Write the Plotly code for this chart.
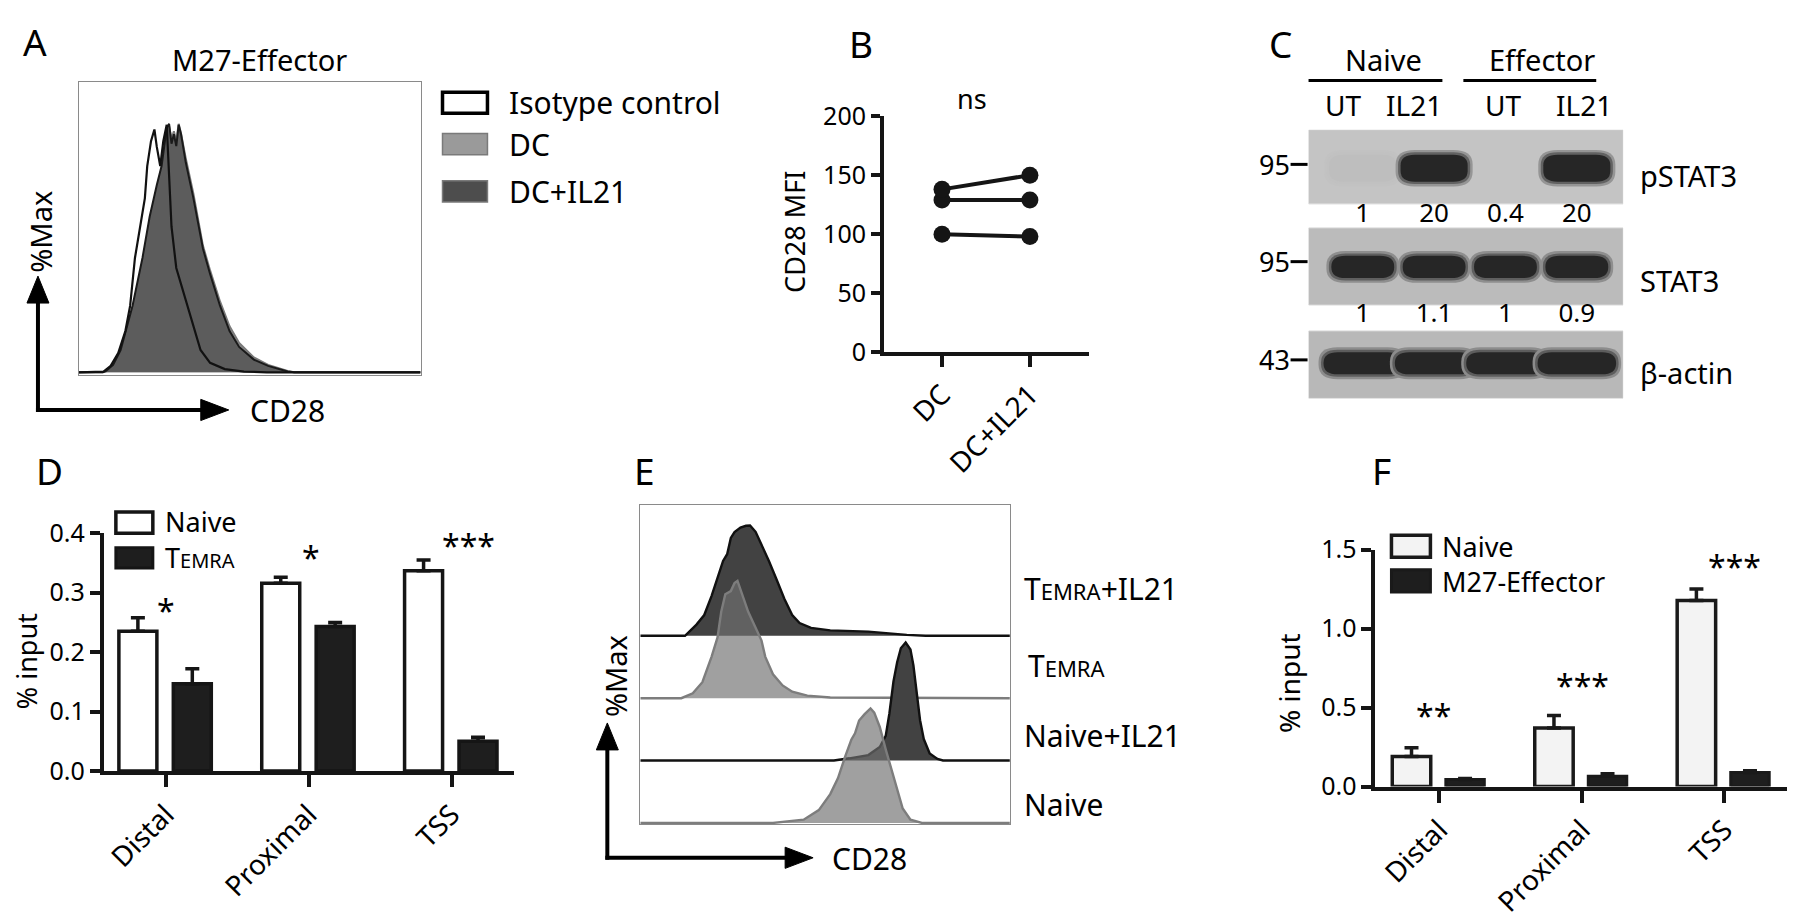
import plotly.graph_objects as go

W, H = 1800, 920
FONT = "Noto Sans"

# ---------------- data ----------------
# Panel A : CD28 histograms (x: % of CD28 axis width, y: %Max)
a_iso_x = [0, 6, 7.2, 9.3, 11.5, 13.6, 15, 16.4, 17.9, 19.3, 20, 21.1, 22.1, 22.8, 23.8, 24.7, 25.7, 26.4, 27.1, 28.5, 31.3, 33.5, 35.6, 38.4, 42.7, 48.3, 55, 100]
a_iso_y = [0, 0, 0.3, 2.6, 7.7, 16.6, 26.8, 46, 58.7, 70, 83, 93, 97.7, 90.7, 83, 93, 99.6, 78, 58.7, 42, 29, 19, 9, 3.8, 1.3, 0.3, 0, 0]
a_dc_x = [0, 7, 7.95, 10, 12.2, 15.7, 18.6, 20.7, 22.8, 24.2, 25.7, 26.4, 27.1, 27.8, 28.5, 29.2, 29.9, 31.3, 33.5, 34.9, 36.3, 38.4, 41.3, 44.1, 46.9, 51.2, 55.4, 61.1, 63, 100]
a_dc_y = [0, 0, 0.4, 2.5, 8, 25, 44, 61, 74, 82, 96, 99, 94, 97, 93, 100, 96, 86, 72, 61, 51, 41, 28.5, 18.5, 11.8, 6, 3, 0.5, 0, 0]
a_dcil21_x = a_dc_x
a_dcil21_y = [0, 0, 0.6, 3, 8.9, 26.8, 46, 62.6, 75.4, 83, 98.4, 100, 92, 95.8, 91, 99.6, 95.8, 84.3, 70.2, 60, 49.8, 39.6, 26.8, 16.6, 10.2, 5.1, 2.6, 0.3, 0, 0]
a_legend = ["Isotype control", "DC", "DC+IL21"]

# Panel B : CD28 MFI paired
b_categories = ["DC", "DC+IL21"]
b_dc = [100, 129, 138]
b_dcil21 = [98, 129, 150]
b_yticks = [0, 50, 100, 150, 200]

# Panel C : western blot
c_lanes = [1, 2, 3, 4]
c_lane_labels = ["UT", "IL21", "UT", "IL21"]
c_groups = ["Naive", "Effector"]
c_rows = ["pSTAT3", "STAT3", "\u03b2-actin"]
c_mw = ["95", "95", "43"]
c_pstat3_band = [0.035, 1.0, 0.0, 1.0]
c_stat3_band = [1.0, 1.0, 1.0, 1.0]
c_actin_band = [1.0, 1.0, 1.0, 1.0]
c_pstat3_quant = ["1", "20", "0.4", "20"]
c_stat3_quant = ["1", "1.1", "1", "0.9"]

# Panel D : ChIP % input, Naive vs TEMRA
d_categories = ["Distal", "Proximal", "TSS"]
d_naive = [0.235, 0.316, 0.337]
d_naive_err = [0.023, 0.010, 0.018]
d_temra = [0.147, 0.243, 0.050]
d_temra_err = [0.025, 0.007, 0.007]
d_sig = ["*", "*", "***"]
d_sig_y = [0.28, 0.37, 0.39]
d_yticks = [0, 0.1, 0.2, 0.3, 0.4]

# Panel E : stacked CD28 histograms (x: % of axis width, y: %Max)
e_labels = ["T<span style='font-size:22px'>EMRA</span>+IL21", "T<span style='font-size:22px'>EMRA</span>",
            "Naive+IL21", "Naive"]
e_temra_il21_x = [0, 12.1, 15.2, 17.3, 19.3, 20.9, 22.4, 23.5, 24.5, 25.5, 27.1, 28.6, 29.7, 31.2, 32.8, 34.8, 36.9, 39, 41.1, 43.1, 46.2, 51.4, 61.7, 66.9, 72.1, 77.2, 100]
e_temra_il21_y = [0, 0, 9.7, 18, 34.7, 50, 65, 70.8, 85, 90, 94, 95.5, 95.8, 90.3, 79, 65, 48.6, 31.9, 18, 11, 6.9, 4.7, 3.6, 1.9, 0.8, 0, 0]
e_temra_x = [0, 11.1, 14.2, 16.8, 19.3, 20.9, 21.9, 23, 24.5, 25.5, 26.3, 27.1, 27.8, 29.2, 31.2, 32.8, 33.8, 35.9, 38.5, 41.1, 45.2, 51.4, 100]
e_temra_y = [0, 0, 4.2, 13.9, 36.1, 52.8, 75, 90.3, 93, 100, 101.9, 94.4, 86.1, 75, 61.1, 50, 36.1, 20.8, 11.1, 5.6, 2.2, 0.6, 0]
e_naive_il21_x = [0, 52.4, 56.6, 61.7, 64.8, 66.4, 67.4, 68.5, 69.5, 70.5, 71.8, 73.1, 73.9, 74.7, 75.7, 76.7, 78.3, 80.4, 81.9, 100]
e_naive_il21_y = [0, 0, 1.9, 4.7, 11.7, 21.4, 40.8, 68.6, 85.3, 97.5, 102.5, 96.4, 82.5, 63, 35, 18.6, 6.1, 1.4, 0, 0]
e_naive_x = [0, 35.9, 44.2, 48.3, 51.4, 53.5, 55.5, 57.1, 58.1, 59.2, 60.7, 62.3, 63.3, 64.8, 66.4, 67.9, 69.5, 71, 73.1, 76.2, 100]
e_naive_y = [0, 0, 2.8, 11.1, 25, 38.9, 58.3, 72.2, 77.8, 88.9, 94.4, 99.4, 95.8, 83.3, 63.9, 47.2, 27.8, 12.5, 2.8, 0, 0]

# Panel F : ChIP % input, Naive vs M27-Effector
f_categories = ["Distal", "Proximal", "TSS"]
f_naive = [0.19, 0.37, 1.177]
f_naive_err = [0.055, 0.08, 0.073]
f_eff = [0.045, 0.065, 0.088]
f_eff_err = [0.006, 0.015, 0.012]
f_sig = ["**", "***", "***"]
f_sig_y = [0.49, 0.68, 1.43]
f_yticks = [0, 0.5, 1.0, 1.5]


# ---------------- helpers ----------------
def px(x):
    return x / W


def py(y):
    return 1 - y / H


def txt(x, y, s, size=28, xanchor="center", yanchor="middle", angle=0, color="black"):
    return dict(x=px(x), y=py(y), xref="paper", yref="paper", text=s, showarrow=False,
                font=dict(family=FONT, size=size, color=color), xanchor=xanchor,
                yanchor=yanchor, textangle=angle)


def rect(x0, y0, x1, y1, fill, line="black", lw=3):
    return dict(type="rect", xref="paper", yref="paper", x0=px(x0), x1=px(x1),
                y0=py(y0), y1=py(y1), fillcolor=fill, line=dict(color=line, width=lw))


def pline(x0, y0, x1, y1, color="black", width=3.5):
    return dict(type="line", xref="paper", yref="paper", x0=px(x0), x1=px(x1),
                y0=py(y0), y1=py(y1), line=dict(color=color, width=width))


def tri(pts, color="black"):
    p = "M " + " L ".join(f"{px(a)},{py(b)}" for a, b in pts) + " Z"
    return dict(type="path", xref="paper", yref="paper", path=p, fillcolor=color,
                line=dict(color=color, width=1))


def mix(c1, c2, t):
    a = [int(c1[i:i + 2], 16) for i in (1, 3, 5)]
    b = [int(c2[i:i + 2], 16) for i in (1, 3, 5)]
    return "#" + "".join(f"{round(a[k] + (b[k] - a[k]) * t):02x}" for k in range(3))


def rrect(x0, x1, y0, y1, rx, ry):
    return (f"M {x0 + rx},{y0} L {x1 - rx},{y0} Q {x1},{y0} {x1},{y0 + ry} "
            f"L {x1},{y1 - ry} Q {x1},{y1} {x1 - rx},{y1} L {x0 + rx},{y1} "
            f"Q {x0},{y1} {x0},{y1 - ry} L {x0},{y0 + ry} Q {x0},{y0} {x0 + rx},{y0} Z")


fig = go.Figure()
shapes = []
ann = []
tickfont = dict(family=FONT, size=25, color="black")
catfont = dict(family=FONT, size=28, color="black")

# ---------------- Panel A ----------------
fig.add_trace(go.Scatter(x=a_dc_x, y=a_dc_y, xaxis="x", yaxis="y", mode="lines",
                         fill="tozeroy", fillcolor="#8f8f8f", line=dict(color="#7a7a7a", width=2),
                         hoverinfo="skip", showlegend=False))
fig.add_trace(go.Scatter(x=a_dcil21_x, y=a_dcil21_y, xaxis="x", yaxis="y", mode="lines",
                         fill="tozeroy", fillcolor="#5c5c5c", line=dict(color="#1a1a1a", width=2),
                         hoverinfo="skip", showlegend=False))
fig.add_trace(go.Scatter(x=a_iso_x, y=a_iso_y, xaxis="x", yaxis="y", mode="lines",
                         line=dict(color="#111111", width=2.2), hoverinfo="skip", showlegend=False))

box_axis = dict(showline=True, mirror=True, linecolor="#8a8a8a", linewidth=1, showticklabels=False,
                ticks="", showgrid=False, zeroline=False, fixedrange=True)
layout_axes = {}
layout_axes["xaxis"] = dict(box_axis, domain=[px(77), px(419)], range=[0, 100], anchor="y")
layout_axes["yaxis"] = dict(box_axis, domain=[py(371), py(66)], range=[-1.2, 117], anchor="x")

ann.append(txt(33, 24, "A", size=37))
ann.append(txt(258, 43, "M27-Effector", size=29))
ann.append(txt(39, 222, "%Max", size=29, angle=-90))
ann.append(txt(286, 408, "CD28", size=30))
a_leg_fill = ["white", "#9a9a9a", "#4d4d4d"]
a_leg_line = ["black", "#7a7a7a", "#7a7a7a"]
a_leg_lw = [3.5, 1.5, 1.5]
a_leg_y = [88, 131, 180]
for i, name in enumerate(a_legend):
    shapes.append(rect(441, a_leg_y[i] - 11, 486, a_leg_y[i] + 11, a_leg_fill[i], a_leg_line[i], a_leg_lw[i]))
    ann.append(txt(506, a_leg_y[i], name, size=30, xanchor="left"))
shapes.append(pline(36, 409, 36, 292, width=4))
shapes.append(tri([(36, 268), (25, 296), (47, 296)]))
shapes.append(pline(34, 407, 203, 407, width=4))
shapes.append(tri([(227, 407), (199, 396), (199, 418)]))

# ---------------- Panel B ----------------
for i in range(len(b_dc)):
    fig.add_trace(go.Scatter(x=b_categories, y=[b_dc[i], b_dcil21[i]], xaxis="x2", yaxis="y2",
                             mode="lines+markers", marker=dict(size=17, color="#151515"),
                             line=dict(color="#151515", width=4), cliponaxis=False,
                             hoverinfo="skip", showlegend=False))
line_axis = dict(showline=True, linecolor="#151515", linewidth=4, ticks="outside", tickwidth=3.5,
                 tickcolor="#151515", showgrid=False, zeroline=False, tickfont=tickfont, fixedrange=True)
layout_axes["xaxis2"] = dict(line_axis, domain=[px(883), px(1088)], type="category",
                             categoryorder="array", categoryarray=b_categories, tickfont=catfont,
                             range=[-0.66, 1.67], ticklen=11, tickangle=-45, anchor="y2")
layout_axes["yaxis2"] = dict(line_axis, domain=[py(347), py(102)], range=[0, 200],
                             tickvals=b_yticks, ticklen=9, anchor="x2")
ann.append(txt(860, 26, "B", size=37))
ann.append(txt(971, 84, "ns", size=27))
ann.append(txt(794, 222, "CD28 MFI", size=27, angle=-90))

# ---------------- Panel C ----------------
c_row_geo = [  # (blot top, blot bottom, band top, band bottom, band half width)
    (116, 193, 142, 170, 0.47),
    (218, 298, 247, 270, 0.44),
    (325, 395, 347, 370, 0.55),
]
c_bg = ["#c4c4c4", "#bbbbbb", "#b8b8b8"]
band_dark = "#262626"
for r, bands in enumerate([c_pstat3_band, c_stat3_band, c_actin_band]):
    t, b, bt, bb, hw = c_row_geo[r]
    shapes.append(dict(type="rect", xref="x3", yref="y3", x0=0.24, x1=4.65, y0=t, y1=b,
                       fillcolor=c_bg[r], line=dict(color="#d6d6d6", width=1), layer="below"))
    for lane, inten in zip(c_lanes, bands):
        if inten <= 0:
            continue
        layers = [(0.3, 0.07, 5), (0.62, 0.035, 2.5), (1.0, 0.0, 0)]
        for frac, dxp, dyp in layers:
            col = mix(c_bg[r], band_dark, inten * frac)
            shapes.append(dict(type="path", xref="x3", yref="y3",
                               path=rrect(lane - hw - dxp, lane + hw + dxp, bt - dyp, bb + dyp,
                                          0.2 + dxp, 11 + dyp * 0.8),
                               fillcolor=col, line=dict(width=0)))
fig.add_trace(go.Scatter(x=c_lanes, y=[205] * 4, text=c_pstat3_quant, mode="text", xaxis="x3", yaxis="y3",
                         textfont=dict(family=FONT, size=26, color="black"), hoverinfo="skip",
                         showlegend=False, cliponaxis=False))
fig.add_trace(go.Scatter(x=c_lanes, y=[309] * 4, text=c_stat3_quant, mode="text", xaxis="x3", yaxis="y3",
                         textfont=dict(family=FONT, size=26, color="black"), hoverinfo="skip",
                         showlegend=False, cliponaxis=False))
layout_axes["xaxis3"] = dict(domain=[px(1308), px(1623)], range=[0.24, 4.65], visible=False,
                             anchor="y3", fixedrange=True)
layout_axes["yaxis3"] = dict(domain=[py(395), py(116)], range=[395, 116], visible=False,
                             anchor="x3", fixedrange=True)
ann.append(txt(1280, 26, "C", size=37))
ann.append(txt(1383, 43, c_groups[0], size=29))
ann.append(txt(1542, 43, c_groups[1], size=29))
shapes.append(pline(1308, 65, 1442, 65, width=3))
shapes.append(pline(1463, 65, 1596, 65, width=3))
c_lane_shift = [-20, -20, -2, 7]
for lane, lab, sh in zip(c_lanes, c_lane_labels, c_lane_shift):
    ann.append(dict(x=lane, y=py(90), xref="x3", yref="paper", text=lab, showarrow=False,
                    xshift=sh, xanchor="center", yanchor="middle",
                    font=dict(family=FONT, size=28, color="black")))
c_mw_y = [152, 253, 355]
c_label_y = [164, 273, 368]
for i in range(3):
    ann.append(txt(1291, c_mw_y[i], c_mw[i], size=27, xanchor="right"))
    shapes.append(pline(1290, c_mw_y[i], 1307, c_mw_y[i], width=3))
    ann.append(txt(1638, c_label_y[i], c_rows[i], size=29, xanchor="left"))

# ---------------- Panel D ----------------
fig.add_trace(go.Bar(x=d_categories, y=d_naive, xaxis="x4", yaxis="y4", width=0.266, offset=-0.329,
                     marker=dict(color="white", line=dict(color="#151515", width=3.5)),
                     error_y=dict(type="data", array=d_naive_err, arrayminus=[0] * 3, symmetric=False,
                                  color="#151515", thickness=3.5, width=7),
                     hoverinfo="skip", showlegend=False))
fig.add_trace(go.Bar(x=d_categories, y=d_temra, xaxis="x4", yaxis="y4", width=0.266, offset=0.052,
                     marker=dict(color="#1e1e1e", line=dict(color="#151515", width=3.5)),
                     error_y=dict(type="data", array=d_temra_err, arrayminus=[0] * 3, symmetric=False,
                                  color="#151515", thickness=3.5, width=7),
                     hoverinfo="skip", showlegend=False))
layout_axes["xaxis4"] = dict(line_axis, domain=[px(102), px(513)], type="category",
                             categoryorder="array", categoryarray=d_categories, tickfont=catfont,
                             range=[-0.434, 2.44], ticklen=12, tickangle=-45, anchor="y4")
layout_axes["yaxis4"] = dict(line_axis, domain=[py(782), py(535)], range=[0, 0.4],
                             tickvals=d_yticks, tickformat=".1f", ticklen=10, anchor="x4")
d_sig_shift = [0, 2, 17]
for c, s, yv, sh in zip(d_categories, d_sig, d_sig_y, d_sig_shift):
    ann.append(dict(x=c, y=yv, xref="x4", yref="y4", text=s, showarrow=False, xshift=sh, yshift=-6,
                    yanchor="middle", font=dict(family=FONT, size=32, color="black")))
ann.append(txt(48, 470, "D", size=37))
ann.append(txt(24, 668, "% input", size=27, angle=-90))
shapes.append(rect(114, 513, 151, 535, "white", "#151515", 3.5))
shapes.append(rect(114, 550, 151, 571, "#1e1e1e", "#151515", 3))
ann.append(txt(161, 523, "Naive", size=27, xanchor="left"))
ann.append(txt(161, 560, "T<span style='font-size:20px'>EMRA</span>", size=27, xanchor="left"))

# ---------------- Panel E ----------------
e_offsets = [162.5, 108.3, 54.2, 0]
e_series = [(e_temra_il21_x, e_temra_il21_y), (e_temra_x, e_temra_y),
            (e_naive_il21_x, e_naive_il21_y), (e_naive_x, e_naive_y)]
e_fill = ["#424242", "rgba(112,112,112,0.665)", "#424242", "rgba(112,112,112,0.665)"]
e_line = ["#111111", "#7d7d7d", "#111111", "#7d7d7d"]
for (xs, ys), off, fc, lc in zip(e_series, e_offsets, e_fill, e_line):
    fig.add_trace(go.Scatter(x=xs, y=[v + off for v in ys], xaxis="x5", yaxis="y5", mode="lines",
                             fill="toself", fillcolor=fc, line=dict(color=lc, width=2.4),
                             hoverinfo="skip", showlegend=False))
layout_axes["xaxis5"] = dict(box_axis, domain=[px(639), px(1009)], range=[0, 100], anchor="y5")
layout_axes["yaxis5"] = dict(box_axis, domain=[py(837), py(506)], range=[-1, 275.8], anchor="x5")
e_label_xy = [(1021, 592), (1025, 672), (1021, 745), (1021, 817)]
for (lx, ly), lab in zip(e_label_xy, e_labels):
    ann.append(txt(lx, ly, lab, size=30, xanchor="left"))
ann.append(txt(643, 470, "E", size=37))
ann.append(txt(614, 683, "%Max", size=29, angle=-90))
ann.append(txt(868, 873, "CD28", size=30))
shapes.append(pline(606, 874, 606, 757, width=4))
shapes.append(tri([(606, 732), (595, 760), (617, 760)]))
shapes.append(pline(604, 872, 788, 872, width=4))
shapes.append(tri([(812, 872), (784, 861), (784, 883)]))

# ---------------- Panel F ----------------
fig.add_trace(go.Bar(x=f_categories, y=f_naive, xaxis="x6", yaxis="y6", width=0.27, offset=-0.331,
                     marker=dict(color="#f3f3f3", line=dict(color="#1a1a1a", width=3.5)),
                     error_y=dict(type="data", array=f_naive_err, arrayminus=[0] * 3, symmetric=False,
                                  color="#1a1a1a", thickness=3.5, width=7),
                     hoverinfo="skip", showlegend=False))
fig.add_trace(go.Bar(x=f_categories, y=f_eff, xaxis="x6", yaxis="y6", width=0.27, offset=0.045,
                     marker=dict(color="#1e1e1e", line=dict(color="#1a1a1a", width=3)),
                     error_y=dict(type="data", array=f_eff_err, arrayminus=[0] * 3, symmetric=False,
                                  color="#1a1a1a", thickness=3.5, width=7),
                     hoverinfo="skip", showlegend=False))
layout_axes["xaxis6"] = dict(line_axis, domain=[px(1375), px(1787)], type="category",
                             categoryorder="array", categoryarray=f_categories, tickfont=catfont,
                             range=[-0.449, 2.44], ticklen=12, tickangle=-45, anchor="y6")
layout_axes["yaxis6"] = dict(line_axis, domain=[py(798), py(552)], range=[0, 1.5],
                             tickvals=f_yticks, tickformat=".1f", ticklen=10, anchor="x6")
f_sig_shift = [-6, 1, 10]
for c, s, yv, sh in zip(f_categories, f_sig, f_sig_y, f_sig_shift):
    ann.append(dict(x=c, y=yv, xref="x6", yref="y6", text=s, showarrow=False, xshift=sh, yshift=-6,
                    yanchor="middle", font=dict(family=FONT, size=32, color="black")))
ann.append(txt(1381, 470, "F", size=37))
ann.append(txt(1289, 691, "% input", size=28, angle=-90))
shapes.append(rect(1391, 537, 1430, 560, "#f3f3f3", "#1a1a1a", 3.5))
shapes.append(rect(1391, 573, 1430, 596, "#1e1e1e", "#1a1a1a", 3))
ann.append(txt(1440, 549, "Naive", size=27, xanchor="left"))
ann.append(txt(1440, 585, "M27-Effector", size=27, xanchor="left"))

fig.update_layout(
    width=W, height=H, margin=dict(l=0, r=0, t=0, b=0),
    paper_bgcolor="white", plot_bgcolor="rgba(0,0,0,0)",
    font=dict(family=FONT, size=26, color="black"),
    barmode="overlay", showlegend=False,
    shapes=shapes, annotations=ann, **layout_axes,
)

fig.write_html("out.html", config={"displayModeBar": False},
               post_script="document.body.style.margin='0';document.body.style.overflow='hidden';")
